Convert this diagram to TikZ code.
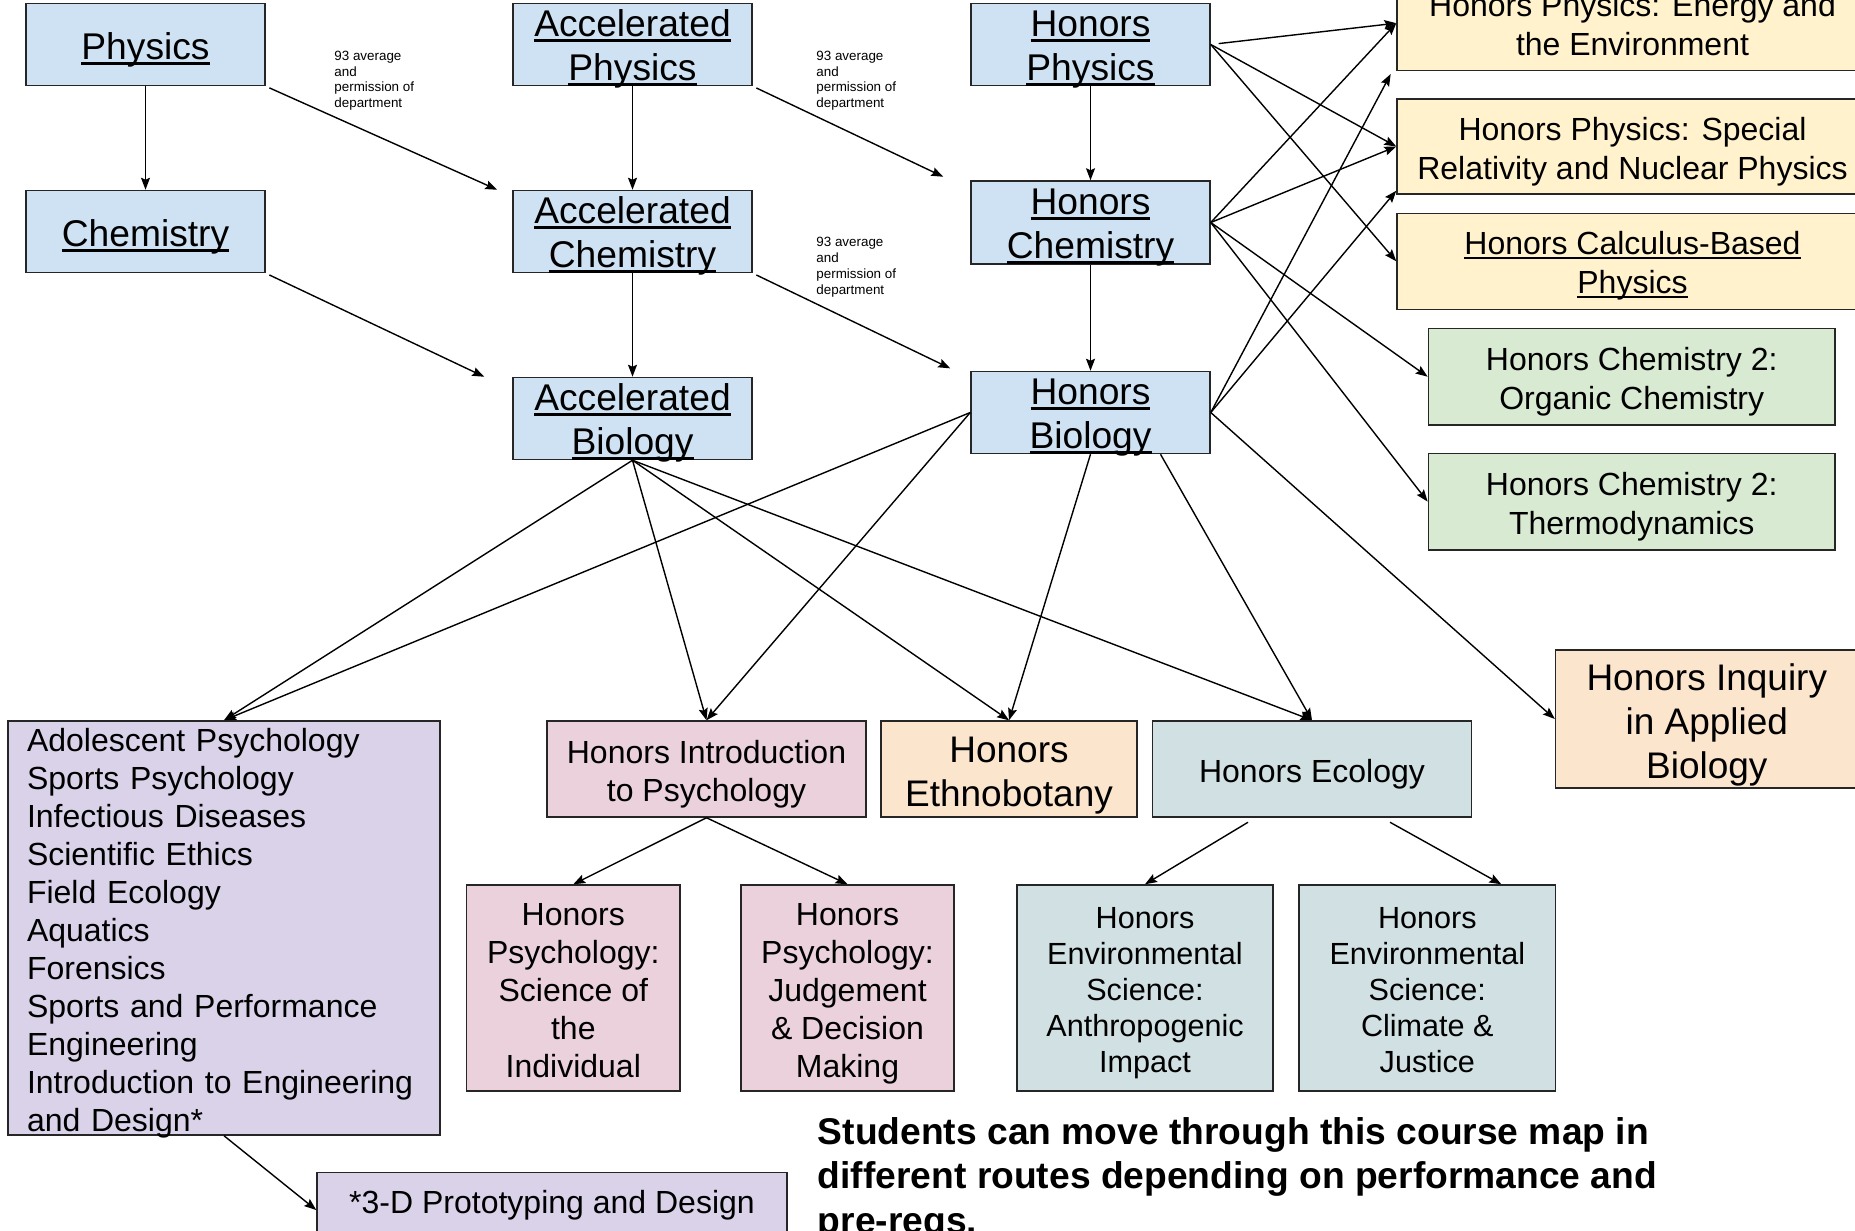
\documentclass[tikz,border=0pt]{standalone}
\usepackage{fontspec}
\setmainfont{Liberation Sans}
\usetikzlibrary{arrows.meta, positioning}
\definecolor{bluebox}{HTML}{CFE2F3}
\definecolor{yellowbox}{HTML}{FFF2CC}
\definecolor{greenbox}{HTML}{D9EAD3}
\definecolor{orangebox}{HTML}{FCE5CD}
\definecolor{pinkbox}{HTML}{EAD1DC}
\definecolor{purplebox}{HTML}{D9D2E9}
\definecolor{tealbox}{HTML}{D0E0E3}
\newcommand{\undl}[1]{\setbox0\hbox{#1}\rlap{\rule[-0.135em]{\wd0}{0.08em}}\box0}
\newcommand{\fs}[2]{\fontsize{#1}{#2}\selectfont}
\newcommand{\tp}{\rule{0pt}{1.03em}}
\newcommand{\bt}{\rule[-0.21em]{0pt}{0.21em}}
\newcommand{\firstrow}[1]{\rule{0pt}{0.88em}\undl{#1}}
\newcommand{\lastrow}[1]{\smash{\undl{#1}}\rule[-0.12em]{0pt}{0.12em}}

\begin{document}
\begin{tikzpicture}[x=0.5pt, y=-0.5pt,
		block/.style={draw=black!85, line width=0.75pt, rectangle, inner sep=0pt, align=center},
		course/.style={block, fill=bluebox, minimum width=119.5pt, minimum height=41pt, font=\fs{18.6}{22}},
		physbox/.style={block, fill=yellowbox, minimum width=235.5pt, minimum height=47.5pt, font=\fs{16}{19.5}},
		chembox/.style={block, fill=greenbox, minimum width=203.3pt, minimum height=48.3pt, font=\fs{16}{19.5}},
		lower/.style={block, minimum height=48pt, font=\fs{16}{19}},
		tall/.style={block, minimum height=103pt, font=\fs{16}{19}},
		req/.style={anchor=north west, align=left, inner sep=0pt, font=\fs{6.7}{7.9}},
		every edge/.append style={draw, line width=0.7pt, -{Stealth[length=6pt, width=4.5pt, inset=1pt]}},]
		\useasboundingbox (0,0) rectangle (1855,1230);
		\fill[white] (0,0) rectangle (1855,1230);

		\node (phys) [course] at (145.5,44.5) {\tp\undl{Physics}\bt};
		\node (chem) [course, below=51.75pt of phys] {\tp\undl{Chemistry}\bt};
		\node (aphys) [course] at (632.5,44.5) {\firstrow{Accelerated}\\\lastrow{Physics}};
		\node (achem) [course, below=51.75pt of aphys] {\firstrow{Accelerated}\\\lastrow{Chemistry}};
		\node (abio) [course, below=51.75pt of achem] {\firstrow{Accelerated}\\\lastrow{Biology}};
		\node (hphys) [course] at (1090.5,44.5) {\firstrow{Honors}\\\lastrow{Physics}};
		\node (hchem) [course, minimum height=41.5pt, below=47pt of hphys] {\firstrow{Honors}\\\lastrow{Chemistry}};
		\node (hbio) [course, below=53pt of hchem] {\firstrow{Honors}\\\lastrow{Biology}};

		\node (hpenv) [physbox] at (1632.5,23.2) {\tp Honors Physics: Energy and\\the Environment\bt};
		\node (hpnuc) [physbox, below=13.4pt of hpenv] {\tp Honors Physics: Special\\Relativity and Nuclear Physics\bt};
		\node (hpcalc) [physbox, minimum height=48pt, below=8.9pt of hpnuc] {\tp\undl{Honors Calculus-Based}\\\undl{Physics}\bt};
		\node (hcorg) [chembox] at (1631.7,376.7) {\tp Honors Chemistry 2:\\Organic Chemistry\bt};
		\node (hcthermo) [chembox, below=13.4pt of hcorg] {\tp Honors Chemistry 2:\\Thermodynamics\bt};
		\node (inquiry) [block, fill=orangebox, minimum width=151.25pt, minimum height=69pt, font=\fs{18.5}{22}] at (1706.8,719) {\tp Honors Inquiry\\in Applied\\Biology\bt};

		\node (electives) [block, fill=purplebox, align=left, text width=197pt, inner xsep=9.5pt, minimum height=207pt, font=\fs{16}{19}] at (224,928) {\rule{0pt}{0.86em}Adolescent Psychology\\Sports Psychology\\Infectious Diseases\\Scientific Ethics\\Field Ecology\\Aquatics\\Forensics\\Sports and Performance\\Engineering\\Introduction to Engineering\\\smash{and Design*}};
		\node (intro) [lower, fill=pinkbox, minimum width=159.5pt] at (706.5,769) {\tp Honors Introduction\\to Psychology\bt};
		\node (ethno) [lower, fill=orangebox, minimum width=128pt, font=\fs{18.5}{22}] at (1009,769) {\tp Honors\\Ethnobotany\bt};
		\node (ecol) [lower, fill=tealbox, minimum width=159.6pt] at (1312,769) {\tp Honors Ecology\bt};
		\node (psysci) [tall, fill=pinkbox, minimum width=106.7pt] at (573.3,988) {\tp Honors\\Psychology:\\Science of\\the\\Individual\bt};
		\node (psyjudge) [tall, fill=pinkbox, minimum width=106.7pt] at (847.5,988) {\tp Honors\\Psychology:\\Judgement\\\& Decision\\Making\bt};
		\node (esanthro) [tall, fill=tealbox, minimum width=128pt, font=\fs{15.3}{18}] at (1145,988) {\tp Honors\\Environmental\\Science:\\Anthropogenic\\Impact\bt};
		\node (esclimate) [tall, fill=tealbox, minimum width=128.25pt, font=\fs{15.3}{18}] at (1427.3,988) {\tp Honors\\Environmental\\Science:\\Climate \&\\Justice\bt};
		\node (proto) [lower, fill=purplebox, minimum width=235pt, minimum height=32.3pt] at (552,1205) {*3-D Prototyping and Design};

		\node (req1) [req] at (334,50.5) {93 average\\and\\permission of\\department};
		\node (req2) [req] at (816,50.5) {93 average\\and\\permission of\\department};
		\node (req3) [req] at (816,237) {93 average\\and\\permission of\\department};
		\node (routes) [anchor=north west, align=left, inner sep=0pt, font=\bfseries\fs{18.6}{22.3}] at (817.5,1117) {Students can move through this course map in\\different routes depending on performance and\\pre-reqs.};

		\path	(phys)	edge	(chem)
				(phys.south east)	edge[shorten <=2pt]	([xshift=-7.5pt]achem.north west)
				(chem.south east)	edge[shorten <=2pt]	([xshift=-14pt]abio.north west)
				(aphys)	edge	(achem)
				(achem)	edge	(abio)
				(aphys.south east)	edge[shorten <=2pt]	([xshift=-13.5pt, yshift=1.75pt]hchem.north west)
				(achem.south east)	edge[shorten <=2pt]	([xshift=-10pt, yshift=1.2pt]hbio.north west)
				(hphys)	edge	(hchem)
				(hchem)	edge	(hbio)
				(hphys.east)	edge[shorten <=4pt]	(hpenv.west)
				(hphys.east)	edge	(hpnuc.west)
				(hphys.east)	edge	(hpcalc.west)
				(hchem.east)	edge	(hpenv.west)
				(hchem.east)	edge	(hpnuc.west)
				(hchem.east)	edge	(hcorg.west)
				(hchem.east)	edge	(hcthermo.west)
				(hbio.east)	edge	([xshift=-2.8pt, yshift=-1.3pt]hpenv.south west)
				(hbio.east)	edge	([yshift=2pt]hpnuc.south west)
				(hbio.east)	edge	(inquiry.west)
				(abio.south)	edge	(electives.north)
				(abio.south)	edge	(intro.north)
				(abio.south)	edge	(ethno.north)
				(abio.south)	edge	(ecol.north)
				(hbio.west)	edge	(electives.north)
				(hbio.west)	edge	(intro.north)
				(hbio.south)	edge	(ethno.north)
				([xshift=35pt]hbio.south)	edge	(ecol.north)
				(intro.south)	edge	(psysci.north)
				(intro.south)	edge	(psyjudge.north)
				([xshift=-32pt, yshift=-2.25pt]ecol.south)	edge	(esanthro.north)
				([xshift=39pt, yshift=-2.25pt]ecol.south)	edge	([xshift=37pt]esclimate.north)
				(electives.south)	edge	([yshift=-2.5pt]proto.west);
	\end{tikzpicture}
\end{document}
